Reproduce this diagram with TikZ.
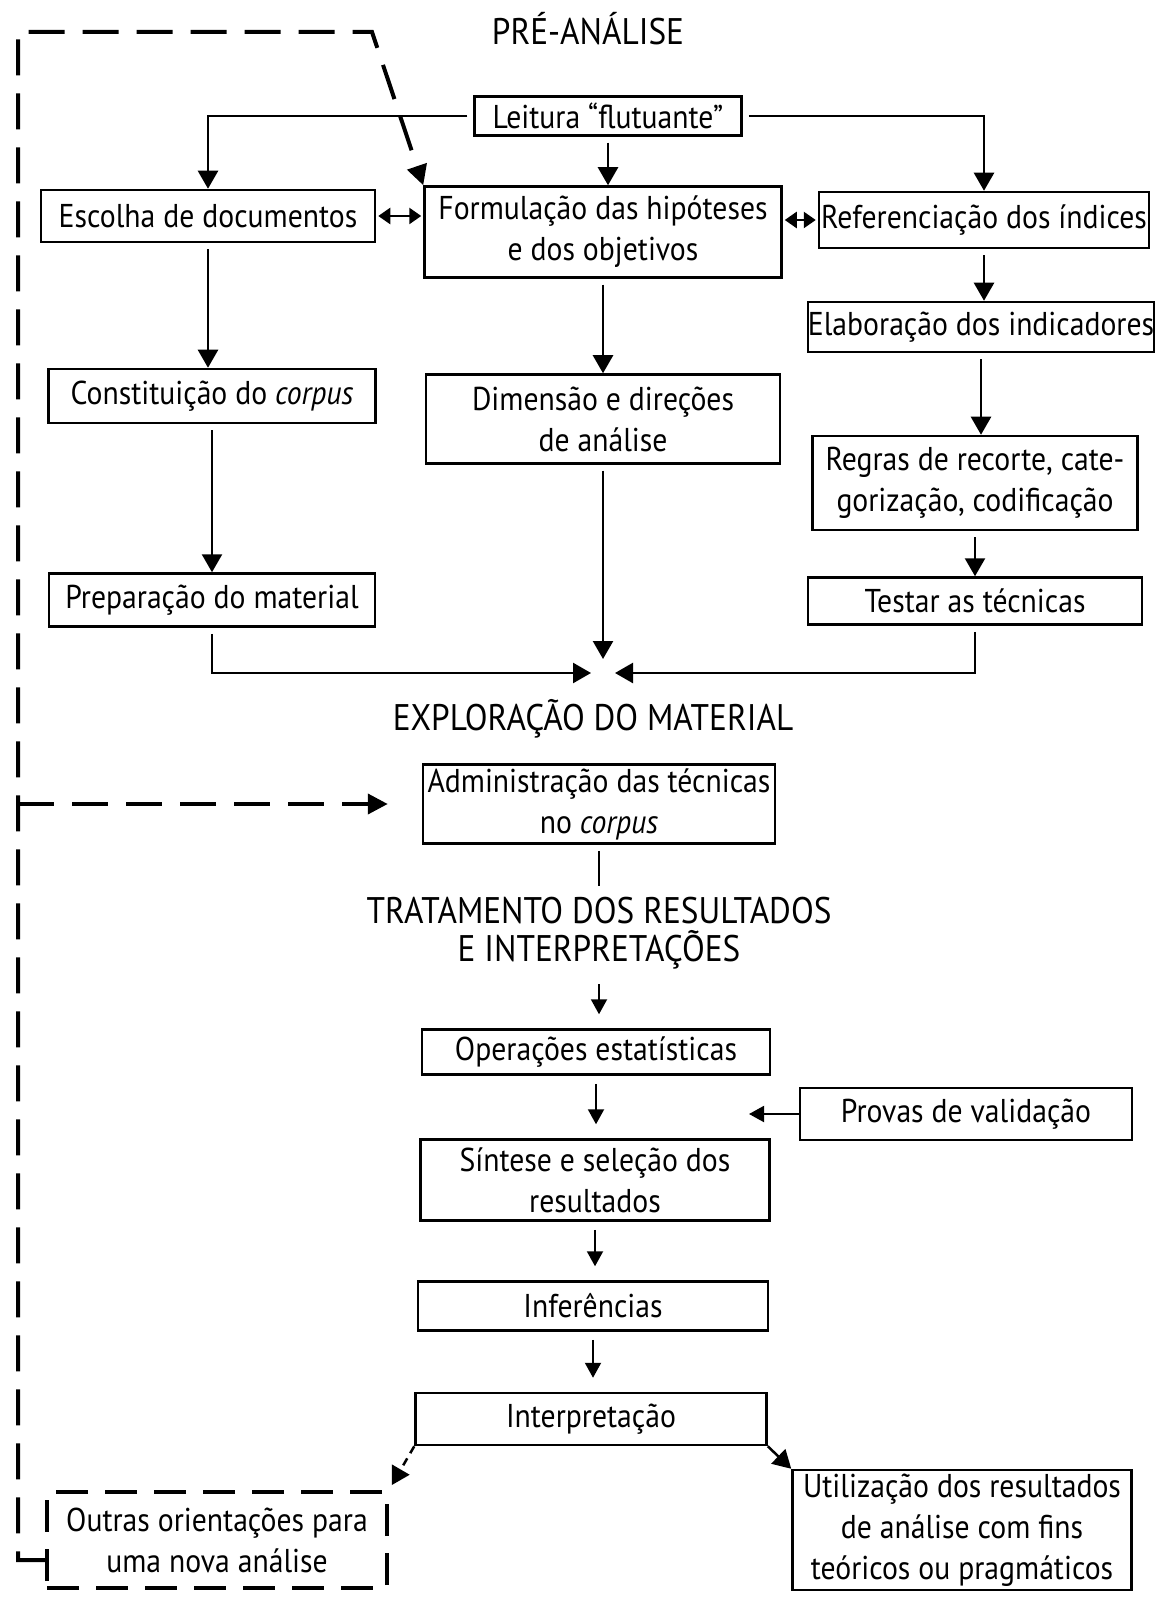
\documentclass[tikz,border=0pt]{standalone}
\usepackage{fontspec}
\setmainfont{PT Sans}[FakeStretch=0.9]
\usetikzlibrary{arrows.meta}
\begin{document}
\begin{tikzpicture}[x=0.5pt,y=-0.5pt,every node/.style={font=\fontsize{16.5}{20.5}\selectfont,align=center},
caixa/.style={draw,line width=1.25pt,inner sep=0pt},
caixatr/.style={caixa,line width=1.7pt,dash pattern=on 16pt off 8.5pt},
seta/.style={-{Triangle[length=9pt,width=10pt]},line width=1.25pt,shorten <=3pt},
seta2/.style={-{Triangle[length=7.5pt,width=8pt]},line width=1pt,shorten <=4pt,shorten >=7pt},
duplo/.style={{Triangle[length=6pt,width=8pt]}-{Triangle[length=6pt,width=8pt]},line width=1.25pt,shorten <=1pt,shorten >=1pt},
retorno/.style={line width=2pt,dash pattern=on 18pt off 9pt,-{Triangle[length=10pt,width=10pt]}},
titulo/.style={font=\fontsize{18.5}{20}\selectfont}]
\useasboundingbox (0,0) rectangle (1157,1598);
% pre-analise
\node[titulo] (pre) at (588,29) {PRÉ-ANÁLISE};
\node[caixa,minimum width=133.5pt,minimum height=19.5pt] (leit) at (608,116) {Leitura “flutuante”};
\node[caixa,minimum width=167pt,minimum height=26pt] (esc) at (208,216) {Escolha de documentos};
\node[caixa,minimum width=178.5pt,minimum height=45.5pt] (form) at (603,232) {Formulação das hipóteses\\e dos objetivos};
\node[caixa,minimum width=165pt,minimum height=28pt] (ref) at (984,220) {Referenciação dos índices};
\node[caixa,minimum width=171pt,minimum height=25pt] (elab) at (981,327) {Elaboração dos indicadores};
\node[caixa,minimum width=163.5pt,minimum height=27pt] (const) at (212,396) {Constituição do \textit{corpus}};
\node[caixa,minimum width=177pt,minimum height=44.5pt] (dim) at (603,419) {Dimensão e direções\\de análise};
\node[caixa,minimum width=162.5pt,minimum height=47pt] (regras) at (975,483) {Regras de recorte, cate-\\gorização, codificação};
\node[caixa,minimum width=163pt,minimum height=26.5pt] (prep) at (212,600) {Preparação do material};
\node[caixa,minimum width=167pt,minimum height=23.5pt] (test) at (975,601) {Testar as técnicas};
\coordinate (enc) at (603,673);
\draw[seta] (leit.west) -| (esc.north);
\draw[seta] (leit.south) -- (leit.south |- form.north);
\draw[seta] (leit.east) -| (ref.north);
\draw[duplo] (esc.east) -- (esc.east -| form.west);
\draw[duplo] (form.east |- ref.west) -- (ref.west);
\draw[seta] (esc.south) -- (esc.south |- const.north);
\draw[seta] (const.south) -- (const.south |- prep.north);
\draw[seta] (form.south) -- (dim.north);
\draw[seta] (ref.south) -- (ref.south |- elab.north);
\draw[seta] (elab.south) -- (elab.south |- regras.north);
\draw[seta] (regras.south) -- (regras.south |- test.north);
\draw[seta] (prep.south) |- ([xshift=-6pt]enc);
\draw[seta] (test.south) |- ([xshift=6pt]enc);
\draw[seta] (dim.south) -- ([yshift=7pt]enc);
% exploracao
\node[titulo] (expl) at (593,719) {EXPLORAÇÃO DO MATERIAL};
\node[caixa,minimum width=176pt,minimum height=39.5pt] (adm) at (599,804) {Administração das técnicas\\no \textit{corpus}};
% tratamento
\node[titulo,font=\fontsize{18.5}{19}\selectfont] (trat) at (599,933) {TRATAMENTO DOS RESULTADOS\\E INTERPRETAÇÕES};
\node[caixa,minimum width=174pt,minimum height=22.5pt] (oper) at (596,1052) {Operações estatísticas};
\node[caixa,minimum width=166pt,minimum height=26pt] (prov) at (966,1114) {Provas de validação};
\node[caixa,minimum width=174.5pt,minimum height=40.5pt] (sint) at (595,1180) {Síntese e seleção dos\\resultados};
\node[caixa,minimum width=175pt,minimum height=24.5pt] (inf) at (593,1306) {Inferências};
\node[caixa,minimum width=175.5pt,minimum height=26pt] (interp) at (591,1419) {Interpretação};
\node[caixatr,minimum width=170pt,minimum height=48pt] (outras) at (217,1540) {Outras orientações para\\uma nova análise};
\node[caixa,minimum width=169.5pt,minimum height=60pt] (util) at (962,1530) {Utilização dos resultados\\de análise com fins\\teóricos ou pragmáticos};
\coordinate (val) at (749,1112);
\draw[line width=1.1pt,shorten <=3pt,shorten >=2pt] (adm.south) -- (trat.north);
\draw[seta2] (trat.south) -- (trat.south |- oper.north);
\draw[seta2] (oper.south) -- (oper.south |- sint.north);
\draw[seta2,shorten <=0pt,shorten >=0pt] (prov.west) -- (val |- prov.west);
\draw[seta2] (sint.south) -- (sint.south |- inf.north);
\draw[seta2] (inf.south) -- (inf.south |- interp.north);
\draw[seta,dash pattern=on 4pt off 3pt,shorten <=0pt,shorten >=3pt] (interp.south west) -- (outras.north east);
\draw[seta,shorten <=0pt] (interp.south east) -- (util.north west);
% retorno tracejado
\coordinate (canto) at (18,1560);
\coordinate (topo) at (372,32);
\draw[retorno] (outras.west |- canto) -- (canto) |- (topo) -- (form.north west);
\draw[retorno,shorten >=17pt] (canto |- adm.west) -- (adm.west);
\end{tikzpicture}
\end{document}
